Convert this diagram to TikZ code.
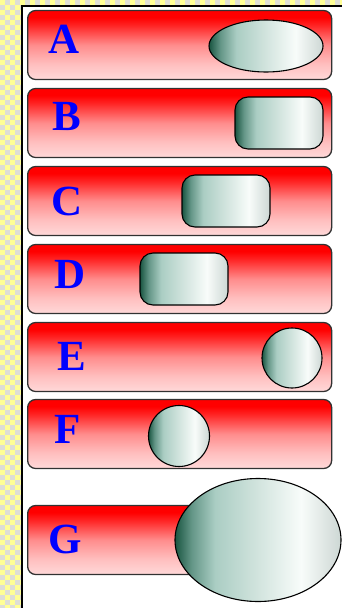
\documentclass[tikz,border=0pt]{standalone}
\usepackage{fontspec}
\setmainfont{Liberation Serif}
\usetikzlibrary{shapes.geometric}
\definecolor{chkY}{RGB}{255,255,150}
\definecolor{chkG}{RGB}{222,222,214}
\definecolor{letblue}{RGB}{0,0,255}
\definecolor{barline}{RGB}{50,50,50}
\pgfdeclareverticalshading{barshade}{100bp}{color(0bp)=(red!15!white);color(25bp)=(red!15!white);color(36bp)=(red!25!white);color(50bp)=(red!45!white);color(64bp)=(red!85!white);color(70bp)=(red);color(100bp)=(red)}
\pgfdeclarehorizontalshading{ballshade}{100bp}{color(0bp)=(rgb,255:red,25;green,85;blue,65);color(25bp)=(rgb,255:red,25;green,85;blue,65);color(30bp)=(rgb,255:red,100;green,150;blue,135);color(37bp)=(rgb,255:red,170;green,205;blue,195);color(50bp)=(rgb,255:red,210;green,228;blue,222);color(63bp)=(rgb,255:red,248;green,252;blue,250);color(75bp)=(rgb,255:red,205;green,215;blue,212);color(100bp)=(rgb,255:red,205;green,215;blue,212)}
\tikzset{
  bar/.style={draw=barline, line width=1.3pt, shading=barshade, rounded corners=8pt, minimum height=69pt, inner sep=0pt, anchor=west},
  pill/.style={draw=black, line width=1.1pt, shading=ballshade, rounded corners=13pt, minimum width=88pt, minimum height=52pt, inner sep=0pt},
  egg/.style={ellipse, draw=black, line width=1.1pt, shading=ballshade, inner sep=0pt},
  ball/.style={circle, draw=black, line width=1.1pt, shading=ballshade, inner sep=0pt},
  letter/.style={text=letblue, font=\fontsize{43}{43}\selectfont\bfseries, anchor=base, inner sep=0pt}
}
\begin{document}
\begin{tikzpicture}[x=1pt,y=-1pt]
\useasboundingbox (0,0) rectangle (342,608);
% checker background
\fill[chkG] (0,0) rectangle (342,608);
\foreach \i in {0,...,4}{
  \foreach \j in {0,...,121}{
    \pgfmathparse{int(mod(\i+\j,2))}
    \ifnum\pgfmathresult=0
      \fill[chkY] (\i*5,\j*5) rectangle ++(5,5);
    \fi
  }
}
\foreach \i in {4,...,68}{
  \pgfmathparse{int(mod(\i,2))}
  \ifnum\pgfmathresult=0
    \fill[chkY] (\i*5,0) rectangle ++(5,5);
  \fi
}
% white panel
\fill[white] (22,6) rectangle (342,608);
\coordinate (pTL) at (22,6);
\coordinate (pTR) at (342,6);
\coordinate (pBL) at (22,608);
\draw[black, line width=2pt] (pBL) -- (pTL) -- (pTR);
% bars
\node[bar, minimum width=304pt] (barA) at (27,45) {};
\node[bar, minimum width=304pt] (barB) at (27,123) {};
\node[bar, minimum width=304pt] (barC) at (27,201) {};
\node[bar, minimum width=304pt] (barD) at (27,279) {};
\node[bar, minimum width=304pt] (barE) at (27,357) {};
\node[bar, minimum width=304pt] (barF) at (27,434) {};
\node[bar, minimum width=230pt] (barG) at (27,540) {};
% shapes
\node[egg, minimum width=114pt, minimum height=52pt] (shA) at (266,46) {};
\node[pill] (shB) at (279,123) {};
\node[pill] (shC) at (226,201) {};
\node[pill] (shD) at (184,279) {};
\node[ball, minimum size=60pt] (shE) at (292,358) {};
\node[ball, minimum size=61pt] (shF) at (179,436) {};
\node[egg, minimum width=166pt, minimum height=123pt] (shG) at (258,540) {};
% letters
\node[letter] (lA) at (64,53) {A};
\node[letter] (lB) at (67,130) {B};
\node[letter] (lC) at (67,215) {C};
\node[letter] (lD) at (70,288) {D};
\node[letter] (lE) at (72,370) {E};
\node[letter] (lF) at (68,443) {F};
\node[letter] (lG) at (65,553) {G};
\end{tikzpicture}
\end{document}
